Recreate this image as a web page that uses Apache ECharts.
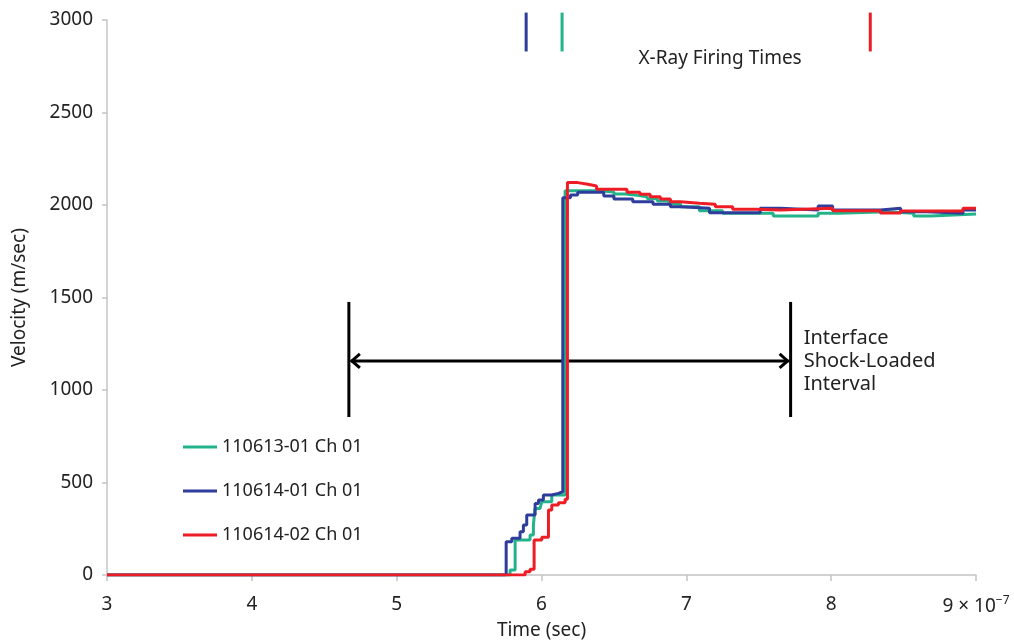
<!DOCTYPE html>
<html>
<head>
<meta charset="utf-8">
<script src="https://cdn.jsdelivr.net/npm/echarts@6/dist/echarts.min.js"></script>
<style>
  html, body { margin: 0; padding: 0; background: #fff; }
  #chart { width: 1014px; height: 640px; }
</style>
</head>
<body>
<div id="chart"></div>
<script>
// Time in units of 1e-7 s, velocity in m/s. Each point starts a new step level.
const seriesNames = ['110613-01 Ch 01', '110614-01 Ch 01', '110614-02 Ch 01'];
const seriesColors = ['#22b38a', '#2e3d9c', '#ee1c25'];

const green = [
  [3.0, 0], [5.783, 27], [5.818, 189], [5.921, 216], [5.944, 270], [5.955, 360],
  [5.99, 369], [6.002, 396], [6.071, 432], [6.163, 2077], [6.40, 2070], [6.50, 2059],
  [6.58, 2052], [6.66, 2045], [6.73, 2034], [6.80, 2022], [6.88, 2005], [6.96, 1991],
  [7.09, 1969], [7.25, 1955], [7.60, 1941], [7.91, 1955], [8.05, 1964], [8.39, 1955],
  [8.57, 1941], [8.69, 1951], [9.0, 1951]
];
const blue = [
  [3.0, 0], [5.756, 180], [5.795, 198], [5.852, 234], [5.875, 270], [5.898, 324],
  [5.956, 387], [5.979, 405], [6.013, 432], [6.071, 441], [6.117, 450], [6.147, 2039],
  [6.20, 2054], [6.25, 2069], [6.43, 2049], [6.50, 2032], [6.63, 2018], [6.77, 2004],
  [6.89, 1991], [6.96, 1982], [7.16, 1958], [7.51, 1982], [7.65, 1973], [7.91, 1995],
  [8.01, 1973], [8.34, 1982], [8.48, 1964], [8.66, 1955], [8.91, 1973], [9.0, 1973]
];
const red = [
  [3.0, 0], [5.887, 18], [5.921, 31], [5.949, 189], [6.002, 204], [6.048, 351],
  [6.071, 378], [6.117, 391], [6.163, 409], [6.179, 2121], [6.25, 2112], [6.32, 2103],
  [6.38, 2085], [6.59, 2069], [6.68, 2058], [6.75, 2045], [6.82, 2032], [6.89, 2018],
  [6.96, 2009], [7.09, 2004], [7.20, 1991], [7.32, 1977], [7.48, 1973], [7.65, 1982],
  [8.01, 1969], [8.34, 1957], [8.48, 1968], [8.91, 1982], [9.0, 1982]
];
const seriesData = [green, blue, red];

// X-ray firing instants (same order as the series) and the span of their markers.
const firingTimes = [6.142, 5.894, 8.27];
const firingSpan = [2830, 3040];
const firingLabelPos = [7.233, 2792];

// Shock-loaded interval annotation.
const intervalBounds = [4.67, 7.72];
const intervalSpan = [854, 1476];
const arrowLevel = 1157;
const intervalLabelPos = [7.81, 1156];

const xTicks = [3, 4, 5, 6, 7, 8, 9];
const yTicks = [0, 500, 1000, 1500, 2000, 2500, 3000];

const FONT = 'Noto Sans';
const chart = echarts.init(document.getElementById('chart'));

const lineSeries = seriesNames.map((name, i) => ({
  name: name,
  type: 'line',
  step: 'end',
  data: seriesData[i],
  symbol: 'none',
  lineStyle: { color: seriesColors[i], width: 3 },
  itemStyle: { color: seriesColors[i] },
  z: 3 + i,
  animation: false
}));

const firingSeries = firingTimes.map((t, i) => ({
  type: 'line',
  data: [[t, firingSpan[0]], [t, firingSpan[1]]],
  symbol: 'none',
  clip: false,
  lineStyle: { color: seriesColors[i], width: 3 },
  silent: true,
  animation: false
}));

// Interval bars, double-headed arrow and the two text labels.
const annotationSeries = {
  type: 'custom',
  clip: false,
  silent: true,
  animation: false,
  data: [0],
  renderItem: function (params, api) {
    const stroke = { stroke: '#000', lineWidth: 3, fill: null };
    const children = [];
    intervalBounds.forEach(t => {
      const a = api.coord([t, intervalSpan[0]]);
      const b = api.coord([t, intervalSpan[1]]);
      children.push({ type: 'line', shape: { x1: a[0], y1: a[1], x2: b[0], y2: b[1] }, style: stroke });
    });
    const l = api.coord([intervalBounds[0], arrowLevel]);
    const r = api.coord([intervalBounds[1], arrowLevel]);
    children.push({ type: 'line', shape: { x1: l[0] + 2, y1: l[1], x2: r[0] - 2, y2: r[1] }, style: stroke });
    children.push({ type: 'polyline', shape: { points: [[l[0] + 11, l[1] - 7], [l[0] + 3, l[1]], [l[0] + 11, l[1] + 7]] }, style: stroke });
    children.push({ type: 'polyline', shape: { points: [[r[0] - 11, r[1] - 7], [r[0] - 3, r[1]], [r[0] - 11, r[1] + 7]] }, style: stroke });

    const f = api.coord(firingLabelPos);
    children.push({
      type: 'text',
      style: { x: f[0], y: f[1], text: 'X-Ray Firing Times', fill: '#222', font: '19px "' + FONT + '"', align: 'center', verticalAlign: 'middle' }
    });
    const p = api.coord(intervalLabelPos);
    children.push({
      type: 'text',
      style: { x: p[0], y: p[1], text: 'Interface\nShock-Loaded\nInterval', fill: '#222', font: '20px "' + FONT + '"', lineHeight: 23, align: 'left', verticalAlign: 'middle' }
    });
    return { type: 'group', children: children };
  }
};

chart.setOption({
  backgroundColor: '#fff',
  animation: false,
  textStyle: { fontFamily: FONT },
  grid: { left: 107, right: 38, top: 20, bottom: 65, containLabel: false, outerBoundsMode: 'none' },
  legend: {
    data: seriesNames,
    orient: 'vertical',
    left: 178,
    top: 430,
    icon: 'rect',
    itemWidth: 34,
    itemHeight: 3,
    itemGap: 20,
    textStyle: { fontFamily: FONT, fontSize: 18, lineHeight: 24, color: '#222', padding: [0, 0, 0, 0] }
  },
  xAxis: {
    type: 'value',
    min: 3,
    max: 9,
    interval: 1,
    name: 'Time (sec)',
    nameLocation: 'middle',
    nameGap: 38,
    nameTextStyle: { fontFamily: FONT, fontSize: 19, color: '#222' },
    axisLine: { show: true, onZero: false, lineStyle: { color: '#c4c4c4', width: 1.5 } },
    axisTick: { show: true, length: 6, lineStyle: { color: '#c4c4c4', width: 1.5 } },
    splitLine: { show: false },
    axisLabel: {
      margin: 20,
      fontSize: 19,
      color: '#222',
      fontFamily: FONT,
      formatter: function (v) {
        return v === 9 ? '9 × 10{sup|−7}' : String(v);
      },
      rich: {
        sup: { fontSize: 12, fontFamily: FONT, color: '#222', verticalAlign: 'top', padding: [0, 0, 12, 0] }
      }
    }
  },
  yAxis: {
    type: 'value',
    min: 0,
    max: 3000,
    interval: 500,
    name: 'Velocity (m/sec)',
    nameLocation: 'middle',
    nameGap: 78,
    nameTextStyle: { fontFamily: FONT, fontSize: 19, color: '#222' },
    axisLine: { show: true, lineStyle: { color: '#c4c4c4', width: 1.5 } },
    axisTick: { show: true, length: 5, lineStyle: { color: '#c4c4c4', width: 1.5 } },
    splitLine: { show: false },
    axisLabel: {
      margin: 14, fontSize: 19, color: '#222', fontFamily: FONT,
      formatter: function (v) { return String(v); }
    }
  },
  series: lineSeries.concat(firingSeries, [annotationSeries])
});
</script>
</body>
</html>
